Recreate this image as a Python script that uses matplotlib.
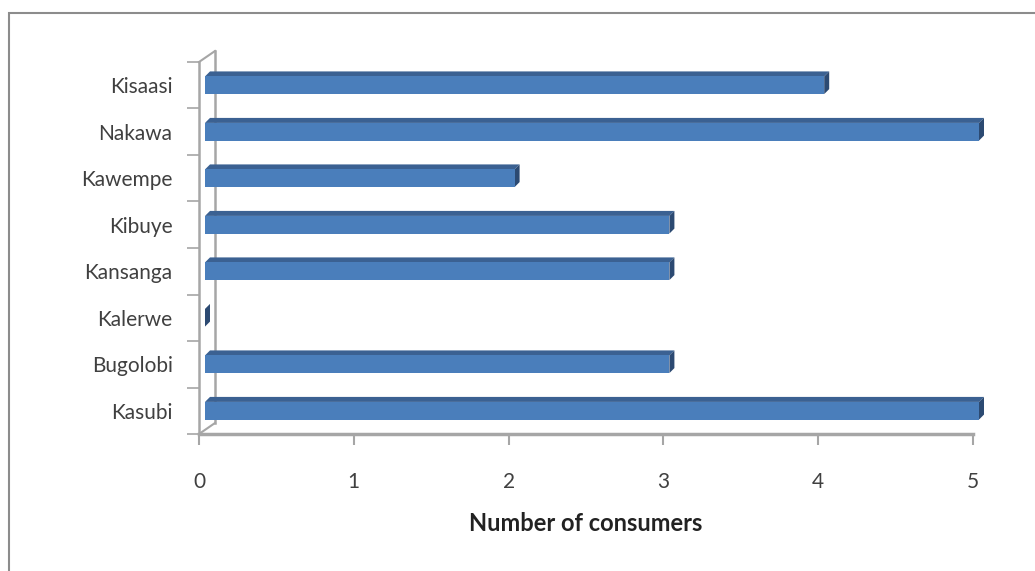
import matplotlib.pyplot as plt
import matplotlib.transforms as mtransforms
from matplotlib.patches import Rectangle, Polygon

# data (bottom to top)
areas = ["Kasubi", "Bugolobi", "Kalerwe", "Kansanga", "Kibuye", "Kawempe", "Nakawa", "Kisaasi"]
consumers = [5, 3, 0, 3, 3, 2, 5, 4]
x_ticks = [0, 1, 2, 3, 4, 5]

plt.rcParams["font.family"] = ["Lato", "DejaVu Sans"]

W, H = 1035, 571
fig = plt.figure(figsize=(W / 100, H / 100), dpi=100)
ax = fig.add_axes([199 / W, 137 / H, 774 / W, 372 / H])

pos = list(range(len(areas)))
ax.set_xlim(0, 5)
ax.set_ylim(-0.5, 7.5)

grey = "#a6a6a6"
ident = mtransforms.IdentityTransform()

# back wall edge (pixel offset of the 3D depth)
wdx, wdy = 16, 11
p_bot = ax.transData.transform((0, -0.5))
p_top = ax.transData.transform((0, 7.5))
wall = [(p_bot[0] + wdx, p_bot[1] + wdy), (p_top[0] + wdx, p_top[1] + wdy)]
fig.add_artist(plt.Line2D([wall[0][0], wall[1][0]], [wall[0][1], wall[1][1]],
                          color=grey, lw=1.8, transform=ident, zorder=1))
for p, q in ((p_bot, wall[0]), (p_top, wall[1])):
    fig.add_artist(plt.Line2D([p[0], q[0]], [p[1], q[1]], color=grey, lw=1.5,
                              transform=ident, zorder=1))

# 3D-ish bars: front face, top face, end cap
h = 0.38
fx = 6          # front face offset from the axis plane, px
dx, dy = 5, 5   # bar depth, px
for y, v in zip(pos, consumers):
    x0, y0 = ax.transData.transform((0, y - h / 2))
    x1, y1 = ax.transData.transform((v, y + h / 2))
    x0 += fx
    x1 += fx
    front = Polygon([(x0, y0), (x1, y0), (x1, y1), (x0, y1)], closed=True,
                    facecolor="#4a7ebb", edgecolor="none", transform=ident, zorder=4)
    top = Polygon([(x0, y1), (x1, y1), (x1 + dx, y1 + dy), (x0 + dx, y1 + dy)], closed=True,
                  facecolor="#3b6192", edgecolor="none", transform=ident, zorder=4)
    cap = Polygon([(x1, y0), (x1 + dx, y0 + dy), (x1 + dx, y1 + dy), (x1, y1)], closed=True,
                  facecolor="#2c4a72", edgecolor="none", transform=ident, zorder=4)
    for patch in (top, cap, front):
        fig.add_artist(patch)

ax.set_xticks(x_ticks)
ax.set_xticklabels([str(v) for v in x_ticks], fontsize=15, color="#404040")
ax.set_yticks(pos)
ax.set_yticklabels(areas, fontsize=15, color="#404040")
ax.set_yticks([p - 0.5 for p in pos] + [7.5], minor=True)

ax.tick_params(axis="y", which="major", length=0, pad=19)
ax.tick_params(axis="y", which="minor", length=9, width=1.2, color=grey)
ax.tick_params(axis="x", length=8, width=1.5, color=grey, pad=19)

for s in ("top", "right"):
    ax.spines[s].set_visible(False)
ax.spines["left"].set_color(grey)
ax.spines["left"].set_linewidth(1.8)
ax.spines["bottom"].set_color(grey)
ax.spines["bottom"].set_linewidth(2.5)
ax.patch.set_alpha(0)

ax.set_xlabel("Number of consumers", fontsize=17, fontweight="bold", color="#222222", labelpad=15)

# outer chart frame
fig.add_artist(Rectangle((9 / W, -0.1), 1.2, 1.1 - 13 / H, transform=fig.transFigure,
                         fill=False, edgecolor="#8c8c8c", lw=1.5))

fig.savefig("out.png", dpi=100)
